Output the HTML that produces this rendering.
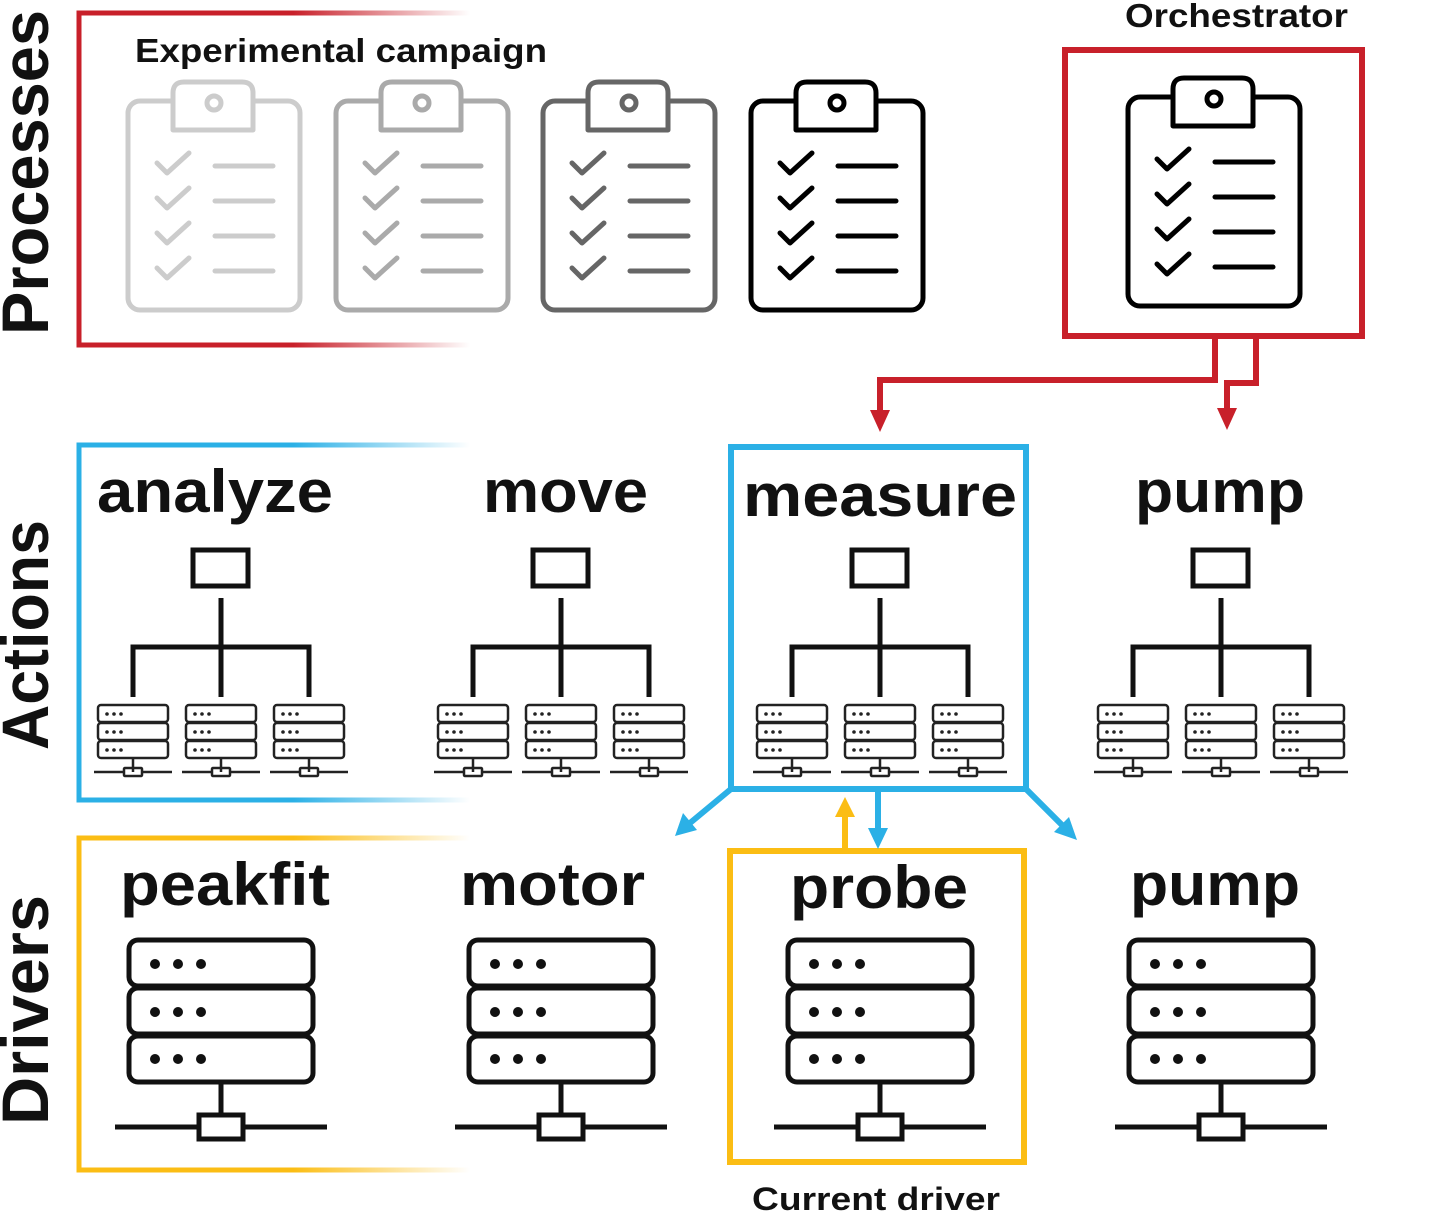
<!DOCTYPE html>
<html><head><meta charset="utf-8"><style>
html,body{margin:0;padding:0;background:#fff;}
svg{display:block;}
text{font-family:"Liberation Sans",sans-serif;}
</style></head><body>
<svg width="1456" height="1213" viewBox="0 0 1456 1213" xmlns="http://www.w3.org/2000/svg">
<defs>
<linearGradient id="gr" x1="77" y1="0" x2="470" y2="0" gradientUnits="userSpaceOnUse"><stop offset="0.55" stop-color="#c8202a"/><stop offset="1" stop-color="#c8202a" stop-opacity="0"/></linearGradient>
<linearGradient id="gb" x1="77" y1="0" x2="470" y2="0" gradientUnits="userSpaceOnUse"><stop offset="0.55" stop-color="#2bb0e6"/><stop offset="1" stop-color="#2bb0e6" stop-opacity="0"/></linearGradient>
<linearGradient id="gy" x1="77" y1="0" x2="470" y2="0" gradientUnits="userSpaceOnUse"><stop offset="0.55" stop-color="#fbbd14"/><stop offset="1" stop-color="#fbbd14" stop-opacity="0"/></linearGradient>
<g id="clip" fill="none" stroke-width="5" stroke-linecap="round" stroke-linejoin="round">
<rect x="0" y="0" width="172" height="209" rx="12"/>
<path d="M45,29 V-8 Q45,-19 56,-19 H114 Q125,-19 125,-8 V29 Z" fill="#fff"/>
<circle cx="86" cy="2" r="7"/>
<path d="M29,62 l10,10 l22,-20 M29,97 l10,10 l22,-20 M29,132 l10,10 l22,-20 M29,167 l10,10 l22,-20"/>
<path d="M87,65 H145 M87,100 H145 M87,135 H145 M87,170 H145"/>
</g>
<g id="srv" fill="none" stroke="#222" stroke-width="2.5">
<rect x="-35" y="0" width="70" height="17" rx="3"/>
<rect x="-35" y="18" width="70" height="17" rx="3"/>
<rect x="-35" y="36" width="70" height="17" rx="3"/>
<path d="M0,53 V67 M-39,67 H-9 M9,67 H39"/>
<rect x="-9" y="63" width="18" height="8" rx="1"/>
<g fill="#222" stroke="none"><circle cx="-26" cy="9" r="1.8"/><circle cx="-19" cy="9" r="1.8"/><circle cx="-12" cy="9" r="1.8"/><circle cx="-26" cy="27" r="1.8"/><circle cx="-19" cy="27" r="1.8"/><circle cx="-12" cy="27" r="1.8"/><circle cx="-26" cy="45" r="1.8"/><circle cx="-19" cy="45" r="1.8"/><circle cx="-12" cy="45" r="1.8"/></g>
</g>
<g id="hier">
<g fill="none" stroke="#111" stroke-width="5">
<rect x="-28" y="550" width="55" height="36"/>
<path d="M0,598 V697 M-88,697 V647 H88 V697"/>
</g>
<use href="#srv" x="-88" y="705"/><use href="#srv" x="0" y="705"/><use href="#srv" x="88" y="705"/>
</g>
<g id="big" fill="none" stroke="#111" stroke-width="5">
<rect x="-92" y="940" width="184" height="46" rx="9"/>
<rect x="-92" y="988" width="184" height="46" rx="9"/>
<rect x="-92" y="1036" width="184" height="46" rx="9"/>
<path d="M0,1082 V1115 M-106,1127 H-22 M22,1127 H106"/>
<rect x="-22" y="1115" width="44" height="24"/>
<g fill="#111" stroke="none"><circle cx="-66" cy="964" r="5"/><circle cx="-43" cy="964" r="5"/><circle cx="-20" cy="964" r="5"/><circle cx="-66" cy="1012" r="5"/><circle cx="-43" cy="1012" r="5"/><circle cx="-20" cy="1012" r="5"/><circle cx="-66" cy="1059" r="5"/><circle cx="-43" cy="1059" r="5"/><circle cx="-20" cy="1059" r="5"/></g>
</g>
</defs>

<!-- side labels -->
<g font-size="66" font-weight="bold" fill="#111" lengthAdjust="spacingAndGlyphs">
<text transform="translate(48,335) rotate(-90)" textLength="325" lengthAdjust="spacingAndGlyphs">Processes</text>
<text transform="translate(48,750) rotate(-90)" textLength="230" lengthAdjust="spacingAndGlyphs">Actions</text>
<text transform="translate(48,1125) rotate(-90)" textLength="230" lengthAdjust="spacingAndGlyphs">Drivers</text>
</g>

<!-- faded frames -->
<path d="M470,13 H79 V345 H470" fill="none" stroke="url(#gr)" stroke-width="5"/>
<path d="M470,445 H79 V800 H470" fill="none" stroke="url(#gb)" stroke-width="5"/>
<path d="M470,838 H79 V1170 H470" fill="none" stroke="url(#gy)" stroke-width="5"/>

<text x="135" y="62" font-size="33" font-weight="bold" fill="#111" textLength="412" lengthAdjust="spacingAndGlyphs">Experimental campaign</text>
<use href="#clip" x="128" y="101" stroke="#ccc"/>
<use href="#clip" x="336" y="101" stroke="#aaa"/>
<use href="#clip" x="543" y="101" stroke="#666"/>
<use href="#clip" x="751" y="101" stroke="#000"/>

<text x="1125" y="27" font-size="33" font-weight="bold" fill="#111" textLength="223" lengthAdjust="spacingAndGlyphs">Orchestrator</text>
<rect x="1065" y="50" width="297" height="286" fill="none" stroke="#c8202a" stroke-width="6"/>
<use href="#clip" x="1128" y="97" stroke="#000"/>

<!-- red arrows -->
<path d="M1215,337 V380 H880 V412 M1256,337 V383 H1227 V410" fill="none" stroke="#c8202a" stroke-width="6"/>
<path d="M870,410 L890,410 L880,432 Z M1217,408 L1237,408 L1227,430 Z" fill="#c8202a"/>

<!-- action titles -->
<g font-size="60" font-weight="bold" fill="#111">
<text x="97" y="512" textLength="236" lengthAdjust="spacingAndGlyphs">analyze</text>
<text x="483" y="512" textLength="165" lengthAdjust="spacingAndGlyphs">move</text>
<text x="743" y="516" textLength="274" lengthAdjust="spacingAndGlyphs">measure</text>
<text x="1135" y="512" textLength="170" lengthAdjust="spacingAndGlyphs">pump</text>
</g>
<use href="#hier" x="221"/><use href="#hier" x="561"/><use href="#hier" x="880"/><use href="#hier" x="1221"/>

<rect x="731" y="447" width="295" height="342" fill="none" stroke="#2bb0e6" stroke-width="6"/>

<!-- driver titles -->
<g font-size="60" font-weight="bold" fill="#111">
<text x="120" y="905" textLength="210" lengthAdjust="spacingAndGlyphs">peakfit</text>
<text x="460" y="905" textLength="185" lengthAdjust="spacingAndGlyphs">motor</text>
<text x="790" y="908" textLength="178" lengthAdjust="spacingAndGlyphs">probe</text>
<text x="1130" y="905" textLength="170" lengthAdjust="spacingAndGlyphs">pump</text>
</g>
<use href="#big" x="221"/><use href="#big" x="561"/><use href="#big" x="880"/><use href="#big" x="1221"/>

<rect x="730" y="851" width="294" height="311" fill="none" stroke="#fbbd14" stroke-width="6"/>
<text x="752" y="1210" font-size="32" font-weight="bold" fill="#111" textLength="248" lengthAdjust="spacingAndGlyphs">Current driver</text>

<!-- blue / yellow arrows -->
<g stroke="#2bb0e6" stroke-width="6" fill="none">
<path d="M731,789 L690,823 M1026,789 L1062,825 M878,790 V830"/>
</g>
<path d="M675,836 L683,813 L697,830 Z M1077,840 L1054,832 L1069,817 Z M868,828 L888,828 L878,849 Z" fill="#2bb0e6"/>
<path d="M845,850 V815" stroke="#fbbd14" stroke-width="6"/>
<path d="M835,817 L855,817 L845,797 Z" fill="#fbbd14"/>
</svg>
</body></html>
